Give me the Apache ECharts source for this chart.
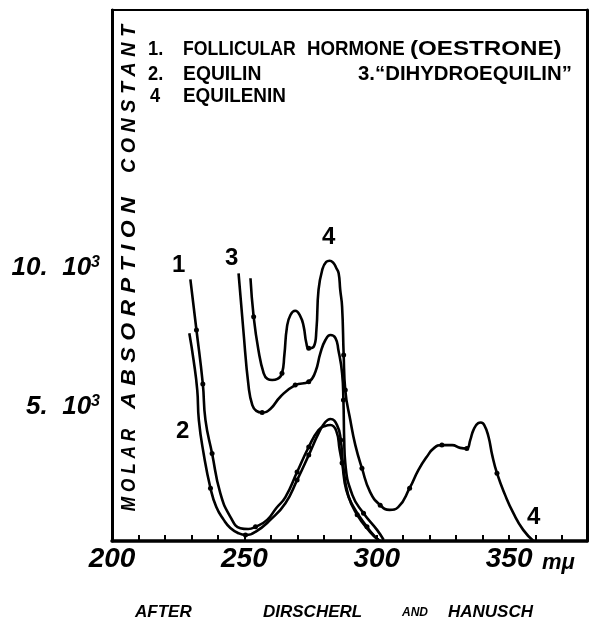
<!DOCTYPE html>
<html><head><meta charset="utf-8">
<script src="https://cdn.jsdelivr.net/npm/echarts@6/dist/echarts.min.js"></script>
<style>html,body{margin:0;padding:0;background:#fff}#c{width:591px;height:625px}</style>
</head><body><div id="c"></div>
<script>
// Curve 1: follicular hormone (oestrone)
const wl1 = [229.6, 231.9, 234.3, 235.3, 237.8, 240.9, 244.7, 248.5, 251.5, 254.2, 258.6, 262.0, 265.5, 269.9, 274.3, 278.0, 280.5, 282.5, 284.7, 286.0, 286.9, 288.5, 291.2, 296.3, 299.4, 301.3];
const abs1 = [9410, 7590, 5650, 4350, 3150, 1720, 870, 460, 430, 510, 760, 1180, 1580, 2480, 3380, 3990, 4140, 4170, 3960, 3270, 2810, 1830, 1230, 510, 150, 0];
const dots1 = [1, 2, 4, 9, 13, 14, 20, 23];
// Curve 2: equilin
const wl2 = [229.2, 230.8, 232.2, 232.8, 234.6, 237.2, 239.4, 242.2, 244.7, 247.8, 250.4, 254.2, 259.8, 265.5, 269.9, 274.3, 278.0, 280.5, 282.5, 285.0, 286.4, 287.2, 289.2, 292.6, 297.5, 300.6];
const abs2 = [7470, 6510, 5430, 4350, 3150, 1900, 1220, 760, 470, 280, 220, 330, 760, 1360, 2190, 3090, 3870, 4270, 4390, 4170, 3630, 2810, 1650, 940, 320, 40];
const dots2 = [5, 10, 14, 15, 20, 23];
// Curve 3: "dihydroequilin"
const wl3 = [247.8, 249.6, 251.6, 253.0, 254.5, 256.7, 259.8, 263.6, 269.2, 274.3, 276.8, 278.7, 280.6, 282.5, 284.4, 285.5, 286.9, 287.4, 287.7, 288.1, 290.8, 295.0, 300.1, 302.6];
const abs3 = [9630, 7590, 5550, 4890, 4680, 4620, 4750, 5190, 5610, 5730, 6080, 6760, 7230, 7410, 7300, 6870, 6040, 5070, 3630, 2810, 1650, 1000, 400, 40];
const dots3 = [5, 8, 9, 17, 21];
// Curve 4: equilenin
const wl4 = [252.3, 253.5, 255.3, 257.3, 258.7, 260.5, 262.5, 264.2, 265.1, 266.1, 267.4, 269.2, 271.1, 272.4, 273.4, 274.3, 276.2, 277.2, 278.0, 279.4, 280.9, 282.2, 283.6, 284.7, 285.6, 286.2, 286.9, 287.5, 288.1, 290.0, 291.9, 294.4, 297.5, 301.3, 304.8, 308.1, 312.4, 315.7, 318.9, 321.7, 324.6, 328.5, 331.5, 334.0, 335.3, 336.5, 338.3, 339.3, 340.6, 342.2, 343.6, 345.4, 348.5, 351.6, 355.3, 359.2];
const abs4 = [9450, 8070, 6870, 6030, 5830, 5790, 5830, 6030, 6690, 7710, 8130, 8280, 8090, 7710, 7120, 6930, 6990, 7590, 9030, 9750, 10040, 10080, 10000, 9820, 9630, 9030, 8430, 6690, 5430, 4350, 3450, 2620, 1760, 1290, 1120, 1220, 1900, 2550, 3030, 3350, 3450, 3450, 3350, 3330, 3630, 3990, 4240, 4260, 4170, 3750, 3090, 2440, 1650, 1000, 400, 0];
const dots4 = [1, 7, 15, 27, 28, 31, 33, 36, 40, 43, 51];

const xLabels = {200: '200', 250: '250', 300: '300', 350: '350'};
const yLabels = {5000: '5.  10', 10000: '10.  10'};

const FAM = '"Liberation Sans", Arial, sans-serif';

function buildData(wl, ab, dots) {
  return wl.map((w, i) => dots.indexOf(i) >= 0
    ? {value: [w, ab[i]], symbol: 'circle', symbolSize: 5}
    : {value: [w, ab[i]], symbol: 'none'});
}
function mkSeries(wl, ab, dots) {
  return {
    type: 'line', data: buildData(wl, ab, dots), smooth: 0.5,
    showSymbol: true, showAllSymbol: true, silent: true,
    lineStyle: {color: '#000', width: 2.6}, itemStyle: {color: '#000'}
  };
}
function txt(s, x, y, font, extra, align) {
  return Object.assign({
    type: 'text', x: x, y: y, silent: true,
    style: {text: s, font: font, fill: '#000', align: align || 'left', verticalAlign: 'middle',
            textAlign: align || 'left', textVerticalAlign: 'middle'}
  }, extra || {});
}
const legFont = 'bold 21px ' + FAM;
const ytFont = 'italic bold 21px ' + FAM;
const numFont = 'bold 24px ' + FAM;
const capFont = 'italic bold 17px ' + FAM;
const R = Math.PI / 2;

const chart = echarts.init(document.getElementById('c'), null, {renderer: 'canvas'});
chart.setOption({
  animation: false,
  backgroundColor: '#fff',
  grid: {left: 112, right: 4, top: 10, bottom: 84, show: true, borderColor: '#000', borderWidth: 2, backgroundColor: 'transparent'},
  xAxis: {
    type: 'value', min: 200, max: 379.4, interval: 10,
    axisLine: {show: true, lineStyle: {color: '#000', width: 3.5}},
    axisTick: {show: true, inside: true, length: 6, lineStyle: {color: '#000', width: 2}},
    splitLine: {show: false},
    axisLabel: {
      show: true, margin: 4, showMinLabel: true, showMaxLabel: true,
      formatter: v => xLabels[v] || '',
      color: '#000', fontSize: 28, fontStyle: 'italic', fontWeight: 'bold', fontFamily: FAM
    }
  },
  yAxis: [{
    type: 'value', min: 0, max: 19100, interval: 5000,
    axisLine: {show: true, lineStyle: {color: '#000', width: 3}},
    axisTick: {show: false}, splitLine: {show: false},
    axisLabel: {
      show: true, margin: 12, padding: [10, 0, 0, 0],
      formatter: v => yLabels[v] ? '{a|' + yLabels[v] + '}{s|3}' : '',
      rich: {
        a: {fontSize: 26, fontStyle: 'italic', fontWeight: 'bold', fontFamily: FAM, color: '#000'},
        s: {fontSize: 16, fontStyle: 'italic', fontWeight: 'bold', fontFamily: FAM, color: '#000', verticalAlign: 'top'}
      }
    }
  }, {
    type: 'value', position: 'right', min: 0, max: 19100,
    axisLine: {show: true, lineStyle: {color: '#000', width: 3}},
    axisTick: {show: false}, axisLabel: {show: false}, splitLine: {show: false}
  }],
  series: [mkSeries(wl1, abs1, dots1), mkSeries(wl2, abs2, dots2), mkSeries(wl3, abs3, dots3), mkSeries(wl4, abs4, dots4)],
  graphic: [
    txt('1.', 148, 49, legFont, {scaleX: 0.87}),
    txt('FOLLICULAR', 183, 49, legFont, {scaleX: 0.84}),
    txt('HORMONE', 307, 49, legFont, {scaleX: 0.89}),
    txt('(OESTRONE)', 410, 49, legFont, {scaleX: 1.15}),
    txt('2.', 148, 74, legFont, {scaleX: 0.87}),
    txt('EQUILIN', 183, 74, legFont, {scaleX: 0.92}),
    txt('3.\u201CDIHYDROEQUILIN\u201D', 358, 74, legFont, {scaleX: 0.97}),
    txt('4', 150, 96, legFont, {scaleX: 0.87}),
    txt('EQUILENIN', 183, 96, legFont, {scaleX: 0.9}),
    txt('C O N S T A N T', 129, 99, ytFont, {rotation: R, scaleX: 0.94}, 'center'),
    txt('A B S O R P T I O N', 129, 303, ytFont, {rotation: R, scaleX: 1.1}, 'center'),
    txt('M O L A R', 129, 470, ytFont, {rotation: R, scaleX: 0.82}, 'center'),
    txt('1', 172, 265, numFont), txt('2', 176, 431, numFont), txt('3', 225, 258, numFont),
    txt('4', 322, 237, numFont), txt('4', 527, 517, numFont),
    txt('m\u03BC', 542, 563, 'italic bold 22px ' + FAM),
    txt('AFTER', 135, 612, capFont), txt('DIRSCHERL', 263, 612, capFont),
    txt('AND', 402, 613, 'italic bold 12px ' + FAM), txt('HANUSCH', 448, 612, capFont)
  ]
});
</script>
</body></html>
